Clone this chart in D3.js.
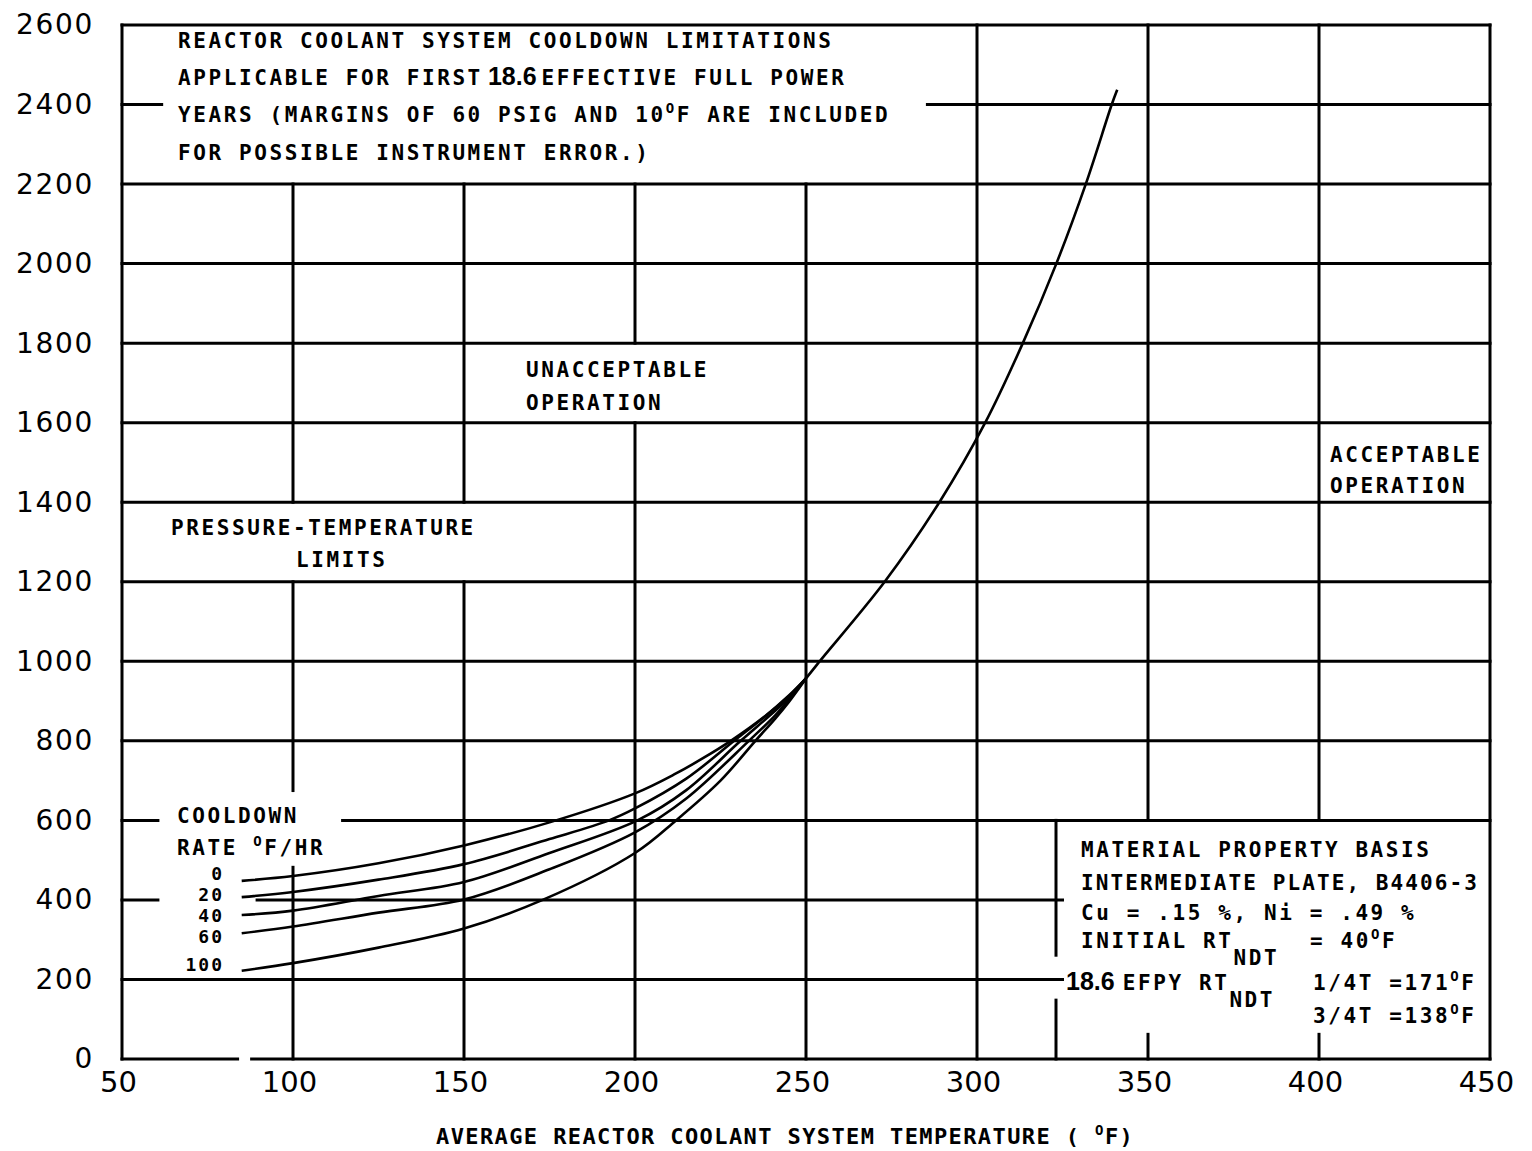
<!DOCTYPE html>
<html>
<head>
<meta charset="utf-8">
<script src="https://cdn.jsdelivr.net/npm/d3@7"></script>
<style>
  body { margin: 0; background: #fff; }
  .note { font-family: "DejaVu Sans Mono", monospace; font-size: 21px; font-weight: bold; letter-spacing: 2.6px; fill: #000; }
  .tick text { font-family: "DejaVu Sans", sans-serif; fill: #000; }
</style>
</head>
<body>
<svg id="chart" width="1532" height="1151"></svg>
<script>
// axis ticks
const xTicks = [50, 100, 150, 200, 250, 300, 350, 400, 450];
const yTicks = [0, 200, 400, 600, 800, 1000, 1200, 1400, 1600, 1800, 2000, 2200, 2400, 2600];

// cooldown limit curves, [temperature F, pressure psig]
const rateLabels = ['0', '20', '40', '60', '100'];
const rate0 = [[85, 448], [100, 460], [125, 492], [150, 537], [175, 595], [200, 668], [212, 718], [220, 757], [228, 800], [238, 862], [245, 914], [250, 957]];
const rate20 = [[85, 407], [100, 420], [125, 451], [150, 490], [175, 553], [192.4, 600], [200, 630], [215, 705], [229, 800], [239, 868], [245, 912], [250, 957]];
const rate40 = [[85, 362], [100, 373], [125, 410], [150, 445], [175, 518], [200.7, 600], [215, 676], [230.9, 800], [240, 868], [245, 908], [250, 957]];
const rate60 = [[85, 316], [100, 333], [125, 368], [150, 401], [175, 477], [200, 570], [215, 655], [233.3, 800], [241, 864], [245, 904], [250, 957]];
const rate100 = [[85, 222], [100, 241], [125, 280], [150, 328], [173, 400], [200, 518], [212, 600], [225, 700], [235.2, 800], [241, 856], [245, 898], [250, 957]];
// common part above the point where all rates meet
const upperLimit = [[250, 957], [254, 1000], [273, 1200], [289, 1400], [302.4, 1600], [313.4, 1800], [323.2, 2000], [331.8, 2200], [339.4, 2400], [341, 2437]];

const svg = d3.select('#chart');
const x = d3.scaleLinear().domain([50, 450]).range([122, 1490]);
const y = d3.scaleLinear().domain([0, 2600]).range([1059, 25]);

// blank areas where grid lines are left out for the text blocks (data units)
const cutouts = [
  { t0: 61.6, t1: 285.5, p0: 2200, p1: 2600 }, // title block
  { t0: 150, t1: 250, p0: 1600, p1: 1800 },    // unacceptable operation
  { t0: 50, t1: 200, p0: 1200, p1: 1400 },     // pressure-temperature limits
  { t0: 60.5, t1: 114.5, p0: 482, p1: 675 },   // cooldown rate heading
  { t0: 60.5, t1: 89.5, p0: 390, p1: 410 },    // rate numbers
  { t0: 325, t1: 450, p0: 62, p1: 600 },       // material property block
  { t0: 83.8, t1: 87.9, p0: -1, p1: 1 }        // break in the bottom edge
];

function subtract(lo, hi, gaps) {
  let segs = [[lo, hi]];
  gaps.forEach(([a, b]) => {
    segs = segs.flatMap(([s, e]) => {
      if (b <= s || a >= e) return [[s, e]];
      const out = [];
      if (a > s) out.push([s, a]);
      if (b < e) out.push([b, e]);
      return out;
    });
  });
  return segs;
}

const segments = [];
xTicks.forEach(t => {
  const gaps = cutouts.filter(c => c.t0 < t && t < c.t1).map(c => [c.p0, c.p1]);
  subtract(0, 2600, gaps).forEach(([a, b]) => segments.push({ x1: t, x2: t, y1: a, y2: b }));
});
yTicks.forEach(p => {
  const gaps = cutouts.filter(c => c.p0 < p && p < c.p1).map(c => [c.t0, c.t1]);
  subtract(50, 450, gaps).forEach(([a, b]) => segments.push({ x1: a, x2: b, y1: p, y2: p }));
});
// left edge of the material property block
[[0, 148], [261, 600]].forEach(([a, b]) => segments.push({ x1: 323.1, x2: 323.1, y1: a, y2: b }));

svg.append('g')
  .selectAll('line')
  .data(segments)
  .join('line')
  .attr('x1', d => x(d.x1))
  .attr('x2', d => x(d.x2))
  .attr('y1', d => y(d.y1))
  .attr('y2', d => y(d.y2))
  .attr('stroke', '#000')
  .attr('stroke-width', 3)
  .attr('stroke-linecap', 'square');

// axes (labels only, the frame is drawn above)
const yAxis = svg.append('g')
  .attr('transform', `translate(${x(50)},0)`)
  .call(d3.axisLeft(y).tickValues(yTicks).tickFormat(d3.format('d')).tickSize(0).tickPadding(28));
yAxis.select('.domain').remove();
yAxis.selectAll('text').style('font-size', '28px').style('letter-spacing', '1.7px');

const xAxis = svg.append('g')
  .attr('transform', `translate(0,${y(0)})`)
  .call(d3.axisBottom(x).tickValues(xTicks).tickFormat(d3.format('d')).tickSize(0).tickPadding(12));
xAxis.select('.domain').remove();
xAxis.selectAll('text').style('font-size', '29px').attr('dx', -4);

// curves
const line = d3.line()
  .x(d => x(d[0]))
  .y(d => y(d[1]))
  .curve(d3.curveCatmullRom.alpha(0.5));

svg.append('g')
  .selectAll('path')
  .data([rate0, rate20, rate40, rate60, rate100, upperLimit])
  .join('path')
  .attr('d', line)
  .attr('fill', 'none')
  .attr('stroke', '#000')
  .attr('stroke-width', 2.6)
  .attr('stroke-linejoin', 'round');

// text helper: parts are strings or [text, kind, dx]; kind = sup | sub | num
function note(xp, yp, parts, anchor) {
  const t = svg.append('text').attr('class', 'note').attr('x', xp).attr('y', yp);
  if (anchor) t.attr('text-anchor', anchor);
  let shift = 0;
  parts.forEach(p => {
    const [str, kind = 'n', dx = 0] = Array.isArray(p) ? p : [p];
    const want = kind === 'sup' ? -9 : kind === 'sub' ? 17 : 0;
    const ts = t.append('tspan').attr('dy', want - shift).text(str);
    shift = want;
    if (dx) ts.attr('dx', dx);
    if (kind === 'sup') ts.style('font-size', '14px');
    if (kind === 'num') {
      ts.style('font-family', '"Liberation Sans", Arial, sans-serif')
        .style('font-size', '25px')
        .style('letter-spacing', '0px');
    }
  });
  return t;
}

// title block
note(178, 48, ['REACTOR COOLANT SYSTEM COOLDOWN LIMITATIONS']);
note(178, 85, ['APPLICABLE FOR FIRST', ['18.6', 'num', 5], ['EFFECTIVE FULL POWER', 'n', 5]]);
note(178, 122, ['YEARS (MARGINS OF 60 PSIG AND 10', ['O', 'sup'], 'F ARE INCLUDED']);
note(178, 160, ['FOR POSSIBLE INSTRUMENT ERROR.)']);

// regions
note(526, 377, ['UNACCEPTABLE']);
note(526, 410, ['OPERATION']);
note(171, 535, ['PRESSURE-TEMPERATURE']);
note(296, 567, ['LIMITS']);
note(1330, 462, ['ACCEPTABLE']);
note(1330, 493, ['OPERATION']);

// cooldown rate legend
note(177, 823, ['COOLDOWN']);
note(177, 855, ['RATE ', ['O', 'sup'], 'F/HR']);
const rateY = [880, 901, 922, 943, 971];
svg.append('g')
  .selectAll('text')
  .data(rateLabels)
  .join('text')
  .attr('class', 'note')
  .attr('text-anchor', 'end')
  .attr('x', 224)
  .attr('y', (d, i) => rateY[i])
  .style('font-size', '18px')
  .style('letter-spacing', '2px')
  .text(d => d);

// material property block
note(1081, 857, ['MATERIAL PROPERTY BASIS']);
note(1081, 890, ['INTERMEDIATE PLATE, B4406-3']).style('letter-spacing', '2.1px');
note(1081, 920, ['Cu = .15 %, Ni = .49 %']);
note(1081, 948, ['INITIAL RT', ['NDT', 'sub']]);
note(1310, 948, ['= 40', ['O', 'sup'], 'F']);
note(1066, 990, [['18.6', 'num'], ['EFPY RT', 'n', 8], ['NDT', 'sub']]);
note(1313, 990, ['1/4T =171', ['O', 'sup'], 'F']);
note(1313, 1023, ['3/4T =138', ['O', 'sup'], 'F']);

// x axis title
note(436, 1144, ['AVERAGE REACTOR COOLANT SYSTEM TEMPERATURE ( ', ['O', 'sup'], 'F)'])
  .style('font-size', '22px').style('letter-spacing', '1.4px');
</script>
</body>
</html>
